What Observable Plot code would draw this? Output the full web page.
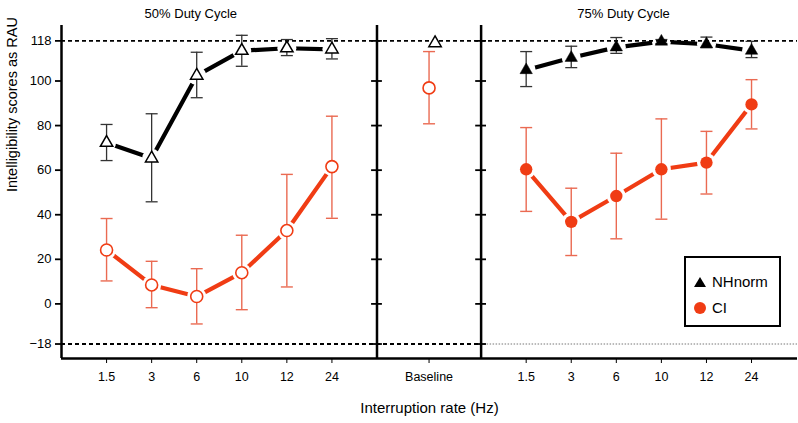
<!DOCTYPE html>
<html><head><meta charset="utf-8">
<script src="https://cdn.jsdelivr.net/npm/d3@7"></script>
<script src="https://cdn.jsdelivr.net/npm/@observablehq/plot@0.6"></script>
<style>
body{margin:0;background:#fff;font-family:"Liberation Sans",Arial,sans-serif}
#chart{position:relative;width:798px;height:423px}
#legend{position:absolute;left:684px;top:256px;width:93px;height:67px;border:2px solid #000;background:#fff;font-size:15px}
#legend .row{position:absolute;left:0;display:flex;align-items:center}
#legend svg{margin-left:7px;margin-right:5px}
</style>
</head><body><div id="chart"><div id="legend">
<div class="row" style="top:15px"><svg width="14" height="14"><path d="M7,2L13,12L1,12Z" fill="#000"/></svg><span>NHnorm</span></div>
<div class="row" style="top:41px"><svg width="14" height="14"><circle cx="7" cy="7" r="6" fill="#f03c14"/></svg><span>CI</span></div>
</div></div>
<script>
// ---- data ----
const rates = ["1.5", "3", "6", "10", "12", "24"];
// 50% duty cycle
const nh50   = [72.3, 65.3, 102.4, 113.6, 114.7, 114.2];
const nh50Lo = [64.3, 45.8, 92.5, 106.6, 111.4, 109.9];
const nh50Hi = [80.5, 85.3, 112.9, 120.5, 118.6, 119.0];
const ci50   = [24.2, 8.5, 3.3, 14.0, 32.9, 61.6];
const ci50Lo = [10.3, -1.7, -9.0, -2.6, 7.6, 38.4];
const ci50Hi = [38.3, 19.1, 15.8, 30.8, 58.1, 84.2];
// baseline
const baseLabel = "Baseline";
const nhBase = 117.0, nhBaseLo = 117.0, nhBaseHi = 117.0;
const ciBase = 96.9, ciBaseLo = 80.8, ciBaseHi = 113.2;
// 75% duty cycle
const nh75   = [104.9, 110.4, 115.1, 117.7, 116.5, 113.6];
const nh75Lo = [97.5, 106.0, 112.4, 116.8, 115.0, 110.5];
const nh75Hi = [113.2, 115.6, 119.5, 118.6, 119.7, 117.8];
const ci75   = [60.4, 36.8, 48.4, 60.4, 63.4, 89.5];
const ci75Lo = [41.5, 21.7, 29.2, 38.0, 49.3, 78.5];
const ci75Hi = [79.1, 51.9, 67.6, 83.0, 77.4, 100.6];

const yTicks = [-18, 0, 20, 40, 60, 80, 100, 118];
const refTop = 118, refBottom = -18;
const panelTitles = ["50% Duty Cycle", "75% Duty Cycle"];
const yLabel = "Intelligibility scores as RAU";
const xLabel = "Interruption rate (Hz)";

// ---- layout of the composite x axis (slot units) ----
const leftEnd = 7, midEnd = 9.31, rightEnd = 16.33;
const posLeft = i => 1 + i;
const posBase = (leftEnd + midEnd) / 2;
const posRight = i => midEnd + 1 + i;
const yDomain = [-24.5, 124.9];

const RED = "#f03c14", RED_ERR = "#ea6a52";

function build(vals, lo, hi, pos, group, panel) {
  return vals.map((v, i) => ({x: pos(i), y: v, lo: lo[i], hi: hi[i], group, panel, label: rates[i]}));
}
const nhL = build(nh50, nh50Lo, nh50Hi, posLeft, "NH", "L");
const ciL = build(ci50, ci50Lo, ci50Hi, posLeft, "CI", "L");
const nhR = build(nh75, nh75Lo, nh75Hi, posRight, "NH", "R");
const ciR = build(ci75, ci75Lo, ci75Hi, posRight, "CI", "R");
const nhB = [{x: posBase, y: nhBase, lo: nhBaseLo, hi: nhBaseHi, group: "NH", panel: "B"}];
const ciB = [{x: posBase, y: ciBase, lo: ciBaseLo, hi: ciBaseHi, group: "CI", panel: "B"}];
const all = [...nhL, ...ciL, ...nhR, ...ciR, ...nhB, ...ciB];
const nhAll = [...nhL, ...nhR, ...nhB];
const ciAll = [...ciL, ...ciR, ...ciB];

const xTicks = [...rates.map((r, i) => [posLeft(i), r]), [posBase, baseLabel], ...rates.map((r, i) => [posRight(i), r])];
const xTickMap = new Map(xTicks);

const cap = {draw(ctx, size) { const w = Math.sqrt(size / Math.PI); ctx.moveTo(-w, 0); ctx.lineTo(w, 0); }};

const errMarks = (data, color, w) => [
  Plot.ruleX(data.filter(d => d.hi > d.lo), {x: "x", y1: "lo", y2: "hi", stroke: color, strokeWidth: w}),
  Plot.dot(data.filter(d => d.hi > d.lo), {x: "x", y: "lo", symbol: cap, r: 6, stroke: color, strokeWidth: w}),
  Plot.dot(data.filter(d => d.hi > d.lo), {x: "x", y: "hi", symbol: cap, r: 6, stroke: color, strokeWidth: w})
];

const chart = Plot.plot({
  width: 798, height: 423,
  marginLeft: 61, marginRight: 1, marginTop: 25, marginBottom: 65,
  style: {fontFamily: "Liberation Sans, Arial, sans-serif", fontSize: "13px", background: "#fff"},
  x: {type: "linear", domain: [0, rightEnd]},
  y: {domain: yDomain},
  marks: [
    // connecting lines
    Plot.line([...nhL, ...nhR], {x: "x", y: "y", z: "panel", stroke: "#000", strokeWidth: 4.2}),
    Plot.line([...ciL, ...ciR], {x: "x", y: "y", z: "panel", stroke: RED, strokeWidth: 4.2}),
    // white halos that open gaps in the lines
    Plot.dot(all, {x: "x", y: "y", r: 9.5, fill: "#fff", stroke: null}),
    // reference lines
    Plot.ruleY([refTop], {x1: 0, x2: rightEnd, stroke: "#000", strokeWidth: 1.8, strokeDasharray: "4,3"}),
    Plot.ruleY([refBottom], {x1: 0, x2: midEnd, stroke: "#000", strokeWidth: 1.8, strokeDasharray: "4,3"}),
    Plot.ruleY([refBottom], {x1: midEnd, x2: rightEnd, stroke: "#777", strokeWidth: 1, strokeDasharray: "1.5,1.5"}),
    // frame and panel dividers
    Plot.ruleX([0, leftEnd, midEnd], {stroke: "#000", strokeWidth: 2.5}),
    Plot.ruleY([yDomain[0]], {stroke: "#000", strokeWidth: 2.5}),
    Plot.ruleY(yTicks, {y: d => d, x1: leftEnd - 0.12, x2: leftEnd + 0.12, stroke: "#000", strokeWidth: 1.8}),
    Plot.ruleY(yTicks, {y: d => d, x1: midEnd - 0.12, x2: midEnd + 0.12, stroke: "#000", strokeWidth: 1.8}),
    // error bars
    ...errMarks(nhAll, "#333", 1.3),
    ...errMarks(ciAll, RED_ERR, 1.4),
    // markers: open (50% & baseline), filled (75%)
    Plot.dot(nhL, {x: "x", y: "y", symbol: "triangle", r: 4.6, fill: "#fff", stroke: "#000", strokeWidth: 1.5}),
    Plot.dot(nhB, {x: "x", y: "y", dx: 6, symbol: "triangle", r: 4.6, fill: "#fff", stroke: "#000", strokeWidth: 1.5}),
    Plot.dot(ciL.concat(ciB), {x: "x", y: "y", symbol: "circle", r: 6, fill: "#fff", stroke: RED, strokeWidth: 1.6}),
    Plot.dot(nhR, {x: "x", y: "y", symbol: "triangle", r: 4.6, fill: "#000", stroke: "#000", strokeWidth: 0.5}),
    Plot.dot(ciR, {x: "x", y: "y", symbol: "circle", r: 6.2, fill: RED}),
    // axes
    Plot.axisY({ticks: yTicks, tickSize: 6, tickPadding: 4, fontSize: 13, label: null, strokeWidth: 1.8}),
    Plot.axisX({ticks: xTicks.map(d => d[0]), tickFormat: d => xTickMap.get(d), tickSize: 5, tickPadding: 9, fontSize: 12.5, label: null}),
    Plot.text([yLabel], {frameAnchor: "left", dx: -49, rotate: -90, fontSize: 14.5, text: d => d}),
    Plot.text([xLabel], {frameAnchor: "bottom", dy: 54, fontSize: 15, text: d => d}),
    // panel titles
    Plot.text([panelTitles[0]], {x: 2.87, frameAnchor: "top", dy: -17, fontSize: 13, text: d => d}),
    Plot.text([panelTitles[1]], {x: 12.47, frameAnchor: "top", dy: -17, fontSize: 13, text: d => d})
  ]
});
document.getElementById("chart").prepend(chart);
</script>
</body></html>
